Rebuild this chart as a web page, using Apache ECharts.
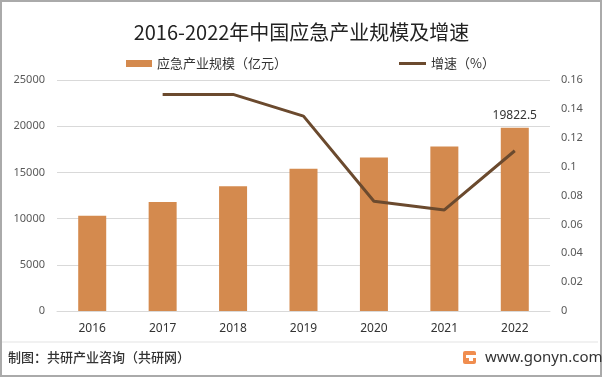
<!DOCTYPE html>
<html><head><meta charset="utf-8">
<script src="https://cdn.jsdelivr.net/npm/echarts@6/dist/echarts.min.js"></script>
<style>html,body{margin:0;padding:0;background:#fff}#c{width:603px;height:378px}</style>
</head><body><div id="c"></div>
<script>
const years = ['2016','2017','2018','2019','2020','2021','2022'];
const scale = [10300, 11800, 13500, 15400, 16600, 17800, 19822.5];
const growth = [null, 0.15, 0.15, 0.135, 0.076, 0.070, 0.111];
const leftTicks = {min: 0, max: 25000, interval: 5000};
const rightTicks = {min: 0, max: 0.16, interval: 0.02};
const FONT = '"Noto Sans CJK SC", "Noto Sans", sans-serif';

const chart = echarts.init(document.getElementById('c'), null, {renderer: 'canvas'});
chart.setOption({
  animation: false,
  backgroundColor: '#fff',
  textStyle: {fontFamily: FONT},
  title: {
    text: '2016-2022年中国应急产业规模及增速',
    left: 'center', top: 17,
    textStyle: {fontSize: 20, fontWeight: 'normal', color: '#222', fontFamily: FONT}
  },
  legend: [
    {left: 121, top: 52, itemWidth: 26, itemHeight: 7, itemGap: 4,
     textStyle: {fontSize: 13, color: '#333', fontFamily: FONT},
     data: [{name: '应急产业规模（亿元）', icon: 'rect'}]},
    {left: 394, top: 52, itemWidth: 27, itemHeight: 3, itemGap: 4,
     textStyle: {fontSize: 13, color: '#333', fontFamily: FONT},
     data: [{name: '增速（%）', icon: 'rect'}]}
  ],
  grid: {left: 57, right: 53, top: 80, bottom: 67},
  xAxis: {
    type: 'category', data: years,
    axisLine: {lineStyle: {color: '#d9d9d9'}},
    axisTick: {show: false},
    axisLabel: {color: '#333', fontSize: 12, margin: 12, fontFamily: '"Noto Sans", sans-serif'}
  },
  yAxis: [
    {type: 'value', min: leftTicks.min, max: leftTicks.max, interval: leftTicks.interval,
     axisLine: {show: false}, axisTick: {show: false},
     axisLabel: {color: '#595959', fontSize: 11, margin: 12, fontFamily: '"Noto Sans", sans-serif',
       formatter: v => String(v)},
     splitLine: {lineStyle: {color: '#d9d9d9'}}},
    {type: 'value', min: rightTicks.min, max: rightTicks.max, interval: rightTicks.interval,
     axisLine: {show: false}, axisTick: {show: false},
     axisLabel: {color: '#595959', fontSize: 11, margin: 11, fontFamily: '"Noto Sans", sans-serif',
       formatter: v => String(Math.round(v * 100) / 100)},
     splitLine: {show: false}}
  ],
  series: [
    {name: '应急产业规模（亿元）', type: 'bar', data: scale, barWidth: 28,
     itemStyle: {color: '#D48A4E'},
     label: {show: true, position: 'top', distance: 6, color: '#333', fontSize: 12,
       fontFamily: '"Noto Sans", sans-serif',
       formatter: p => p.dataIndex === scale.length - 1 ? String(p.value) : ''}},
    {name: '增速（%）', type: 'line', yAxisIndex: 1, data: growth, symbol: 'none',
     lineStyle: {color: '#6B4A2E', width: 3}, itemStyle: {color: '#6B4A2E'}}
  ],
  graphic: [
    {type: 'rect', shape: {x: 1, y: 1, width: 600, height: 375},
     style: {fill: 'none', stroke: '#aaaaaa', lineWidth: 2}, silent: true},
    {type: 'line', shape: {x1: 2, y1: 342, x2: 598, y2: 342},
     style: {stroke: '#e3e3e3', lineWidth: 1}},
    {type: 'text', left: 8, top: 351,
     style: {text: '制图：共研产业咨询（共研网）', fill: '#333', fontSize: 13, fontFamily: FONT, fontWeight: 500}},
    {type: 'rect', shape: {x: 463, y: 351, width: 13, height: 13, r: 2},
     style: {fill: '#F08D4F'}},
    {type: 'rect', shape: {x: 466, y: 355, width: 10, height: 3},
     style: {fill: '#fff'}},
    {type: 'rect', shape: {x: 469, y: 358, width: 4, height: 3},
     style: {fill: '#fff'}},
    {type: 'text', left: 485, top: 350,
     style: {text: 'www.gonyn.com', fill: '#333', fontSize: 15, fontFamily: '"Noto Sans", sans-serif'}}
  ]
});
</script></body></html>
